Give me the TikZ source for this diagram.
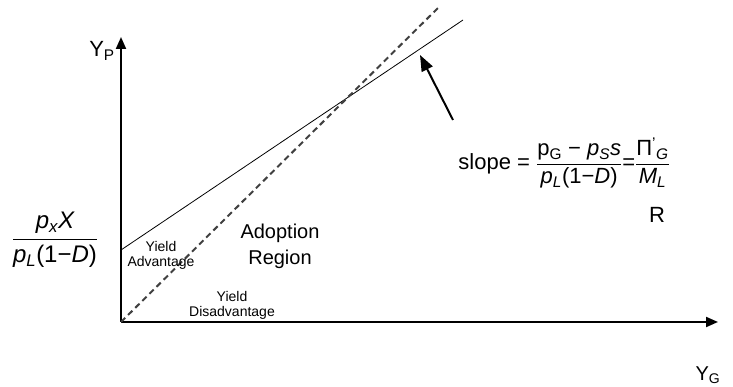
\documentclass[tikz,border=0pt]{standalone}
\usepackage{amsmath}
\usepackage{fontspec}
\setmainfont{Liberation Sans}
\usetikzlibrary{arrows.meta}
\newcommand{\sbt}[1]{\textsubscript{#1}}

\begin{document}
\begin{tikzpicture}[x=1pt,y=1pt,line width=0.8pt,>=Stealth,
  axis/.style={line width=2pt,-{Triangle[length=12pt,width=10pt]}},
  adopt/.style={line width=2pt,dash pattern=on 6pt off 4pt,black!75},
  pointer/.style={line width=2pt,-{Triangle[length=16pt,width=12pt]}},
  big/.style={font=\fontsize{20}{26}\selectfont,align=center,inner sep=0pt},
  huge/.style={font=\fontsize{22}{26}\selectfont,align=center,inner sep=0pt},
  small/.style={font=\fontsize{14}{15}\selectfont,align=center,inner sep=0pt}]
\useasboundingbox (0,0) rectangle (733,387);
% axes
\coordinate (O) at (121,65);
\coordinate (ytip) at (121,350);
\coordinate (xtip) at (718,65);
\draw[axis] (O) -- (ytip);
\draw[axis] (O) -- (xtip);
\node[huge] (yp) at (102,336) {Y\sbt{P}};
\node[huge,font=\fontsize{20}{24}\selectfont] (yg) at (708,12) {Y\sbt{G}};
% iso-profit line and 45 degree line
\coordinate (icpt) at (121,137);
\coordinate (iend) at (463,367);
\coordinate (dend) at (439,380);
\draw (icpt) -- (iend);
\draw[adopt] (O) -- (dend);
% intercept
\node[huge,font=\fontsize{24}{28}\selectfont] (intercept) at (55,147)
  {$\dfrac{\mbox{\itshape p\sbt{x}X}}{\mbox{\itshape p\sbt{L}\upshape(1−\itshape D\upshape)}}$};
% slope label
\coordinate (ptail) at (453,267);
\coordinate (ptip) at (420,332);
\draw[pointer] (ptail) -- (ptip);
\node[huge,anchor=west] (slope) at (458,224)
  {slope = $\dfrac{\mbox{p\sbt{G} − \itshape p\sbt{S}s}}{\mbox{\itshape p\sbt{L}\upshape(1−\itshape D\upshape)}}
  \mbox{=}\dfrac{\mbox{Π\textsuperscript{'}\itshape\sbt{G}}}{\mbox{\itshape M\sbt{L}}}$};
\node[huge] (r) at (657,172) {R};
% regions
\node[small] (adv) at (161,132) {Yield\\Advantage};
\node[big] (region) at (280,141) {Adoption\\Region};
\node[small] (disadv) at (232,82) {Yield\\Disadvantage};
\end{tikzpicture}
\end{document}
